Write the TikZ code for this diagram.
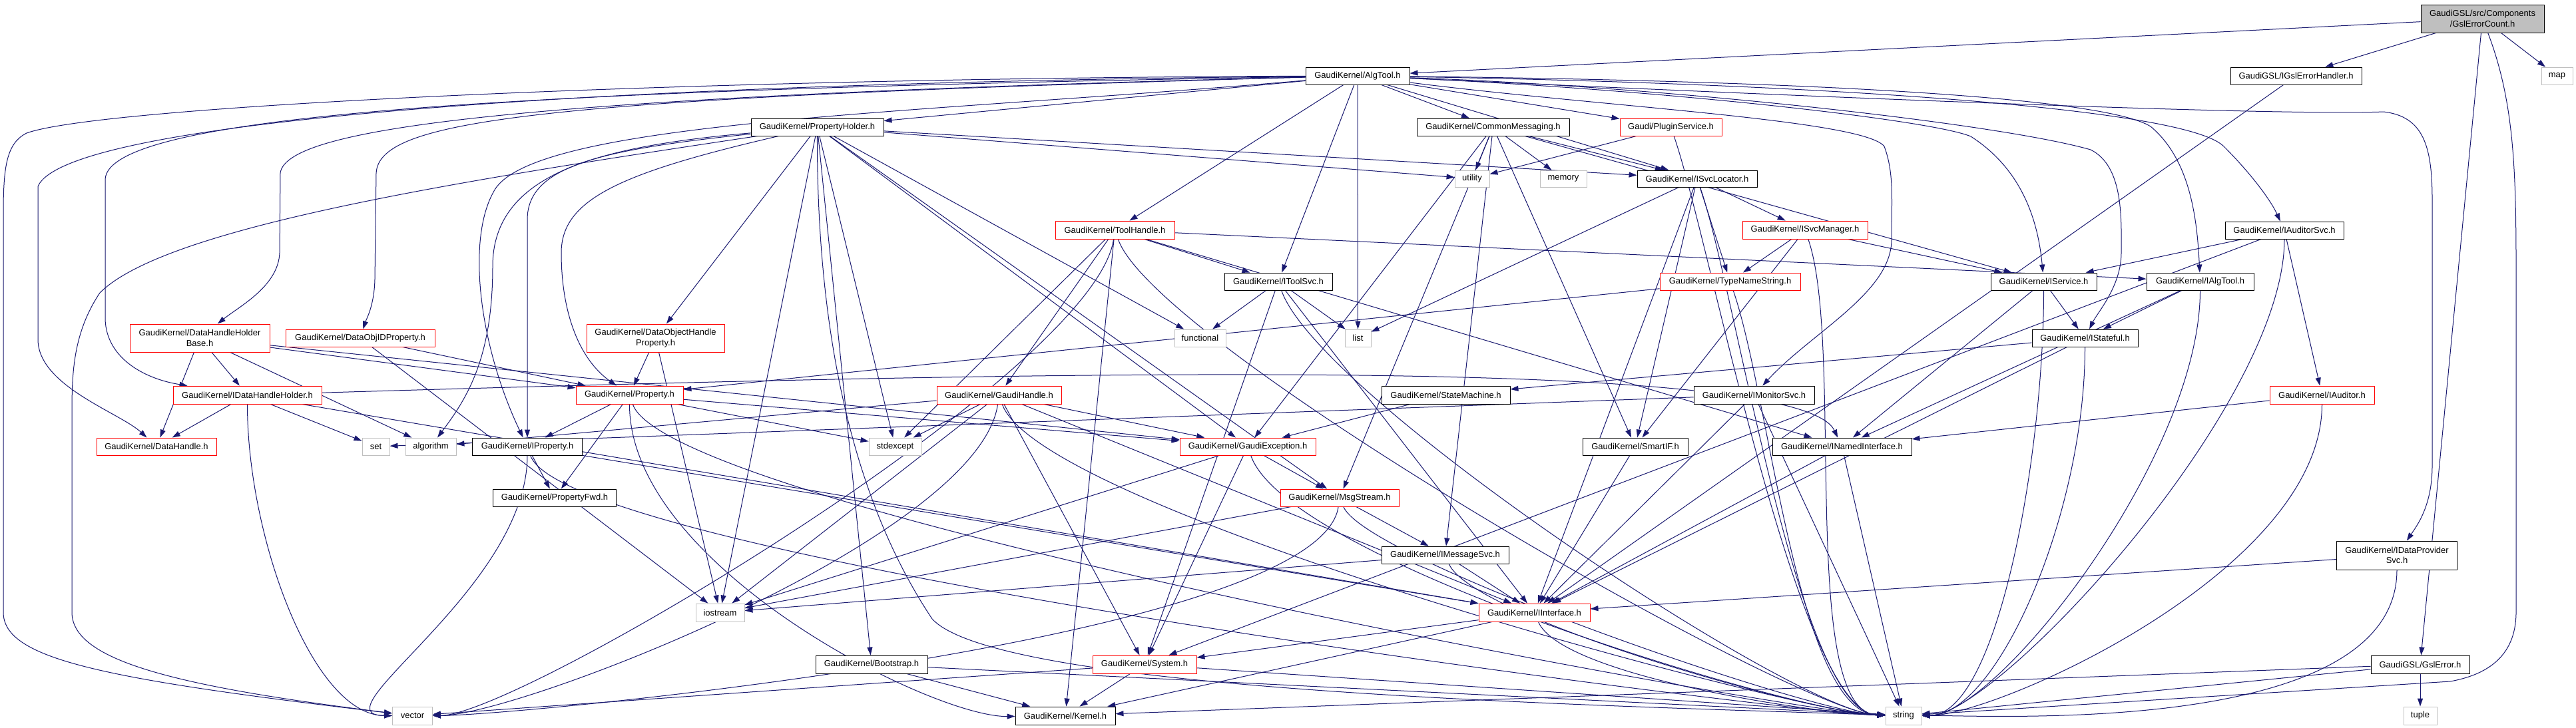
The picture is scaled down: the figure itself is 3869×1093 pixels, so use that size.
\documentclass[tikz,border=0pt]{standalone}
\usepackage{fontspec}
\setmainfont{Liberation Sans}
\usetikzlibrary{arrows.meta,calc}
\definecolor{edgec}{HTML}{191970}
\definecolor{grayb}{HTML}{BFBFBF}
\pgfdeclarelayer{bg}
\pgfsetlayers{bg,main}
\begin{document}
\begin{tikzpicture}[x=1pt,y=1pt,
 box/.style={draw, line width=0.9pt, inner sep=0pt, fill=white, font=\fontsize{13}{15.5}\selectfont, align=center, text=black},
 nb/.style={box, draw=black},
 nr/.style={box, draw=red},
 ng/.style={box, draw=grayb},
 edge/.style={draw=edgec, line width=1pt, -{Triangle[length=12pt,width=8pt]}}]
\useasboundingbox (0,0) rectangle (3869,-1093);
% nodes
\node[box, draw=black, fill=grayb, minimum width=185pt, minimum height=42pt] (gec) at (3728.5,-28) {GaudiGSL/src/Components\\/GslErrorCount.h};
\node[nb, minimum width=197pt, minimum height=26pt] (igsl) at (3448.5,-114) {GaudiGSL/IGslErrorHandler.h};
\node[ng, minimum width=47pt, minimum height=26pt] (map) at (3840.5,-114) {map};
\node[nb, minimum width=178pt, minimum height=26pt] (iauditorsvc) at (3431,-346) {GaudiKernel/IAuditorSvc.h};
\node[nb, minimum width=156pt, minimum height=26pt] (algtool) at (2039,-114) {GaudiKernel/AlgTool.h};
\node[nb, minimum width=229pt, minimum height=26pt] (cm) at (2242.5,-191) {GaudiKernel/CommonMessaging.h};
\node[nr, minimum width=153pt, minimum height=26pt] (plugin) at (2509.5,-191) {Gaudi/PluginService.h};
\node[ng, minimum width=52pt, minimum height=25pt] (utility) at (2211,-268.5) {utility};
\node[ng, minimum width=70pt, minimum height=25pt] (memory) at (2348,-268.5) {memory};
\node[nb, minimum width=180pt, minimum height=25pt] (isvcloc) at (2549,-268.5) {GaudiKernel/ISvcLocator.h};
\node[nr, minimum width=188pt, minimum height=27pt] (isvcman) at (2711,-345.5) {GaudiKernel/ISvcManager.h};
\node[nb, minimum width=199pt, minimum height=26pt] (ph) at (1227.5,-191) {GaudiKernel/PropertyHolder.h};
\node[nr, minimum width=179pt, minimum height=27pt] (toolhandle) at (1674.5,-345.5) {GaudiKernel/ToolHandle.h};
\node[nb, minimum width=162pt, minimum height=26pt] (itoolsvc) at (1920,-423) {GaudiKernel/IToolSvc.h};
\node[ng, minimum width=77pt, minimum height=26pt] (functional) at (1802.5,-508) {functional};
\node[nr, minimum width=207pt, minimum height=42pt] (dohp) at (984.5,-508) {GaudiKernel/DataObjectHandle\\Property.h};
\node[nr, minimum width=161pt, minimum height=27pt] (property) at (945.5,-593.5) {GaudiKernel/Property.h};
\node[nr, minimum width=187pt, minimum height=27pt] (gaudihandle) at (1500.5,-593.5) {GaudiKernel/GaudiHandle.h};
\node[ng, minimum width=79pt, minimum height=26pt] (stdexcept) at (1344.5,-671) {stdexcept};
\node[nr, minimum width=204pt, minimum height=26pt] (gexc) at (1874,-671) {GaudiKernel/GaudiException.h};
\node[ng, minimum width=39pt, minimum height=26pt] (list) at (2039.5,-508) {list};
\node[nr, minimum width=211pt, minimum height=26pt] (tns) at (2598.5,-423) {GaudiKernel/TypeNameString.h};
\node[nb, minimum width=193pt, minimum height=27pt] (statemachine) at (2171.5,-593.5) {GaudiKernel/StateMachine.h};
\node[nb, minimum width=181pt, minimum height=27pt] (imonitorsvc) at (2634.5,-593.5) {GaudiKernel/IMonitorSvc.h};
\node[nb, minimum width=158pt, minimum height=26pt] (smartif) at (2456,-671) {GaudiKernel/SmartIF.h};
\node[nb, minimum width=209pt, minimum height=26pt] (inamed) at (2766.5,-671) {GaudiKernel/INamedInterface.h};
\node[nb, minimum width=159pt, minimum height=26pt] (iservice) at (3069.5,-423) {GaudiKernel/IService.h};
\node[nb, minimum width=161pt, minimum height=26pt] (ialgtool) at (3304.5,-423) {GaudiKernel/IAlgTool.h};
\node[nb, minimum width=159pt, minimum height=26pt] (istateful) at (3131.5,-508) {GaudiKernel/IStateful.h};
\node[nr, minimum width=157pt, minimum height=27pt] (iauditor) at (3487.5,-593.5) {GaudiKernel/IAuditor.h};
\node[nr, minimum width=210pt, minimum height=42pt] (dhhb) at (300,-508) {GaudiKernel/DataHandleHolder\\Base.h};
\node[nr, minimum width=224pt, minimum height=26pt] (doidp) at (541,-508) {GaudiKernel/DataObjIDProperty.h};
\node[nr, minimum width=223pt, minimum height=27pt] (idhh) at (371.5,-593.5) {GaudiKernel/IDataHandleHolder.h};
\node[nr, minimum width=180pt, minimum height=26pt] (datahandle) at (235,-671) {GaudiKernel/DataHandle.h};
\node[ng, minimum width=41pt, minimum height=26pt] (set) at (564.5,-671) {set};
\node[ng, minimum width=76pt, minimum height=26pt] (algorithm) at (647,-671) {algorithm};
\node[nb, minimum width=165pt, minimum height=26pt] (iproperty) at (792,-671) {GaudiKernel/IProperty.h};
\node[nb, minimum width=185pt, minimum height=26pt] (propfwd) at (833,-748) {GaudiKernel/PropertyFwd.h};
\node[ng, minimum width=60pt, minimum height=27pt] (vector) at (619.5,-1075.5) {vector};
\node[ng, minimum width=73pt, minimum height=27pt] (iostream) at (1081.5,-920.5) {iostream};
\node[nb, minimum width=168pt, minimum height=27pt] (bootstrap) at (1309,-998.5) {GaudiKernel/Bootstrap.h};
\node[nr, minimum width=156pt, minimum height=27pt] (system) at (1719,-998.5) {GaudiKernel/System.h};
\node[nb, minimum width=150pt, minimum height=27pt] (kernel) at (1600,-1075.5) {GaudiKernel/Kernel.h};
\node[nr, minimum width=178pt, minimum height=26pt] (msgstream) at (2012,-748) {GaudiKernel/MsgStream.h};
\node[nb, minimum width=191pt, minimum height=26pt] (imessagesvc) at (2170.5,-834) {GaudiKernel/IMessageSvc.h};
\node[nr, minimum width=167pt, minimum height=27pt] (iinterface) at (2304.5,-920.5) {GaudiKernel/IInterface.h};
\node[ng, minimum width=54pt, minimum height=27pt] (string) at (2859,-1075.5) {string};
\node[nb, minimum width=181pt, minimum height=43pt] (idps) at (3600,-834.5) {GaudiKernel/IDataProvider\\Svc.h};
\node[nb, minimum width=148pt, minimum height=27pt] (gslerror) at (3635,-998.5) {GaudiGSL/GslError.h};
\node[ng, minimum width=50pt, minimum height=27pt] (tuple) at (3635,-1075.5) {tuple};
% edges
\begin{pgfonlayer}{bg}
\fill[white] (0,0) rectangle (3869,-1093);
\foreach \s/\t in {gec/algtool, gec/igsl, gec/map, gec/gslerror, igsl/iinterface,
 algtool/ph, algtool/cm, algtool/plugin, algtool/isvcloc, algtool/toolhandle, algtool/itoolsvc, algtool/list,
 ph/dohp, ph/iostream, ph/bootstrap, ph/stdexcept, ph/gexc, ph/isvcloc, ph/utility, ph/functional, ph/msgstream,
 cm/utility, cm/memory, cm/isvcloc, cm/iservice, cm/gexc, cm/msgstream, cm/imessagesvc, cm/smartif,
 plugin/utility,
 isvcloc/list, isvcloc/smartif, isvcloc/iinterface, isvcloc/tns, isvcloc/isvcman,
 isvcman/tns, isvcman/smartif, isvcman/iservice,
 toolhandle/itoolsvc, toolhandle/ialgtool, toolhandle/gaudihandle, toolhandle/stdexcept, toolhandle/kernel, toolhandle/inamed,
 itoolsvc/functional, itoolsvc/list, itoolsvc/system, itoolsvc/iinterface,
 gaudihandle/stdexcept, gaudihandle/gexc, gaudihandle/algorithm, gaudihandle/iostream, gaudihandle/system, gaudihandle/iinterface,
 gexc/msgstream, gexc/system, gexc/iostream,
 property/iproperty, property/propfwd, property/stdexcept, property/gexc,
 iproperty/propfwd, iproperty/iinterface,
 idhh/datahandle, idhh/set, idhh/iinterface,
 dhhb/datahandle, dhhb/idhh, dhhb/algorithm, dhhb/property, dhhb/gexc,
 doidp/property, doidp/iostream, dohp/property, dohp/iostream,
 system/kernel, system/vector, system/string, bootstrap/kernel, bootstrap/string,
 msgstream/imessagesvc, msgstream/iostream,
 imessagesvc/iinterface, imessagesvc/iostream,
 iinterface/system, iinterface/kernel, smartif/iinterface,
 inamed/iinterface, inamed/string, imonitorsvc/set, imonitorsvc/iinterface, imonitorsvc/string,
 iservice/istateful, iservice/inamed,
 ialgtool/istateful, ialgtool/inamed,
 istateful/statemachine, istateful/iinterface,
 iauditor/inamed,
 iauditorsvc/iservice, iauditorsvc/iauditor, iauditorsvc/system,
 idps/iinterface, tns/property, statemachine/gexc,
 gslerror/tuple, gslerror/string, gslerror/kernel}
 \draw[edge] (\s) -- (\t);
% edges into string from the left
\foreach \s in {plugin, isvcloc, isvcman, toolhandle, itoolsvc, gaudihandle, gexc, property, iproperty, tns}
 \draw[edge] (\s) .. controls ($(\s.south)+(60,-160)$) and (2700,-1072) .. (string);
\foreach \s in {msgstream, imessagesvc, iinterface}
 \draw[edge] (\s) .. controls ($(\s.south)+(40,-80)$) and (2720,-1072) .. (string);
% edges into string from the right
\foreach \s in {iservice, ialgtool, istateful, iauditor, iauditorsvc, idps}
 \draw[edge] (\s) .. controls ($(\s.south)+(0,-250)$) and (3000,-1075) .. (string);
% edges into vector from the right
\foreach \s in {toolhandle, gaudihandle, msgstream}
 \draw[edge] (\s) .. controls ($(\s.south)+(-30,-200)$) and (780,-1075) .. (vector);
\foreach \s in {idhh, iproperty}
 \draw[edge] (\s) .. controls ($(\s.south)+(0,-200)$) and (470,-1075) .. (vector);
\draw[edge] (property) .. controls (945,-850) and (1400,-1078) .. (kernel);
% curved edges
\draw[edge] (gec) .. controls (3775,-150) and (3779,-250) .. (3779,-400) -- (3779,-920) .. controls (3779,-990) and (3730,-1015) .. (3680,-1024) -- (string);
\draw[edge] (algtool) .. controls (2600,-140) and (3400,-175) .. (3580,-168) .. controls (3640,-175) and (3653,-220) .. (3653,-300) -- (3653,-700) .. controls (3653,-760) and (3630,-790) .. (idps);
\draw[edge] (algtool) .. controls (2600,-120) and (3150,-140) .. (3230,-190) .. controls (3290,-240) and (3300,-330) .. (ialgtool);
\draw[edge] (algtool) .. controls (2700,-125) and (3280,-160) .. (3340,-220) .. controls (3380,-260) and (3410,-300) .. (iauditorsvc);
\draw[edge] (algtool) .. controls (2500,-130) and (3000,-185) .. (3140,-225) .. controls (3190,-250) and (3186,-330) .. (3186,-380) .. controls (3186,-430) and (3150,-470) .. (istateful);
\draw[edge] (algtool) .. controls (2500,-135) and (2900,-180) .. (2960,-205) .. controls (3030,-250) and (3060,-320) .. (iservice);
\draw[edge] (algtool) .. controls (2400,-160) and (2800,-180) .. (2830,-220) .. controls (2845,-260) and (2841,-300) .. (2841,-360) .. controls (2841,-440) and (2720,-500) .. (imonitorsvc);
\draw[edge] (algtool) .. controls (1000,-118) and (150,-160) .. (40,-200) .. controls (10,-215) and (5,-250) .. (5,-320) -- (5,-920) .. controls (5,-990) and (150,-1020) .. (vector);
\draw[edge] (algtool) .. controls (900,-125) and (100,-180) .. (57,-280) -- (57,-510) .. controls (57,-580) and (180,-620) .. (datahandle);
\draw[edge] (algtool) .. controls (800,-135) and (160,-170) .. (158,-270) -- (158,-480) .. controls (160,-540) and (220,-570) .. (idhh);
\draw[edge] (algtool) .. controls (800,-145) and (430,-190) .. (421,-260) -- (420,-380) .. controls (418,-430) and (360,-460) .. (dhhb);
\draw[edge] (algtool) .. controls (800,-148) and (570,-180) .. (565,-260) -- (563,-420) .. controls (562,-460) and (550,-480) .. (doidp);
\draw[edge] (algtool) .. controls (1400,-170) and (800,-180) .. (742,-287) .. controls (700,-360) and (720,-520) .. (iproperty);
\draw[edge] (ph) .. controls (700,-270) and (250,-340) .. (150,-440) .. controls (110,-500) and (108,-560) .. (108,-620) -- (108,-920) .. controls (108,-990) and (250,-1030) .. (vector);
\draw[edge] (ph) .. controls (900,-220) and (740,-260) .. (740,-400) .. controls (740,-540) and (700,-600) .. (algorithm);
\draw[edge] (ph) .. controls (900,-225) and (792,-250) .. (792,-330) -- (iproperty);
\draw[edge] (ph) .. controls (930,-260) and (843,-300) .. (843,-380) .. controls (843,-470) and (870,-540) .. (property);
\draw[edge] (ph) .. controls (1227,-500) and (1280,-750) .. (1400,-930) .. controls (1500,-1040) and (2400,-1060) .. (string);
\draw[edge] (idhh) .. controls (1500,-560) and (2700,-530) .. (inamed);
\end{pgfonlayer}
\end{tikzpicture}
\end{document}
